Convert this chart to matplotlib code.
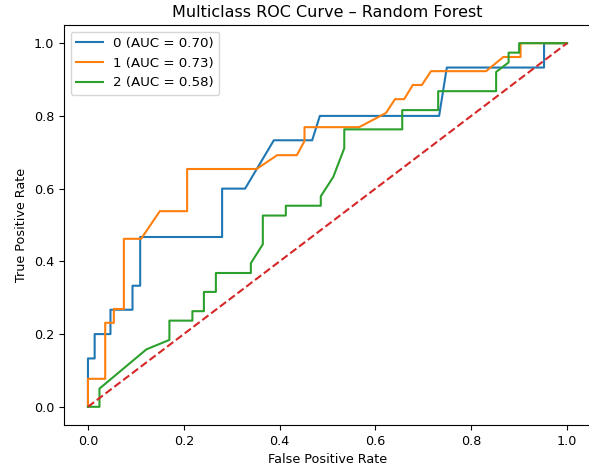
import matplotlib
matplotlib.use("Agg")
import matplotlib.pyplot as plt

# ROC points (FPR, TPR) per class
fpr_0 = [0, 0, 0.014, 0.014, 0.047, 0.047, 0.093, 0.093, 0.109, 0.109, 0.28, 0.28,
         0.328, 0.388, 0.468, 0.484, 0.733, 0.749, 0.952, 0.952, 1.0]
tpr_0 = [0, 0.133, 0.133, 0.2, 0.2, 0.267, 0.267, 0.333, 0.333, 0.467, 0.467, 0.6,
         0.6, 0.733, 0.733, 0.8, 0.8, 0.933, 0.933, 1.0, 1.0]

fpr_1 = [0, 0, 0.036, 0.036, 0.054, 0.054, 0.075, 0.075, 0.111, 0.15, 0.207, 0.207,
         0.352, 0.395, 0.436, 0.452, 0.452, 0.566, 0.622, 0.641, 0.66, 0.678, 0.697,
         0.716, 0.831, 0.867, 0.903, 0.903, 1.0]
tpr_1 = [0, 0.077, 0.077, 0.231, 0.231, 0.269, 0.269, 0.462, 0.462, 0.538, 0.538, 0.654,
         0.654, 0.692, 0.692, 0.731, 0.769, 0.769, 0.808, 0.846, 0.846, 0.885, 0.885,
         0.923, 0.923, 0.962, 0.962, 1.0, 1.0]

fpr_2 = [0, 0.024, 0.024, 0.122, 0.17, 0.17, 0.218, 0.218, 0.242, 0.242, 0.267, 0.267,
         0.34, 0.34, 0.365, 0.365, 0.413, 0.413, 0.486, 0.486, 0.512, 0.535, 0.535,
         0.656, 0.656, 0.731, 0.731, 0.852, 0.852, 0.878, 0.878, 0.9, 0.9, 1.0]
tpr_2 = [0, 0, 0.05, 0.158, 0.184, 0.237, 0.237, 0.263, 0.263, 0.316, 0.316, 0.368,
         0.368, 0.395, 0.447, 0.526, 0.526, 0.553, 0.553, 0.579, 0.632, 0.711, 0.763,
         0.763, 0.816, 0.816, 0.868, 0.868, 0.921, 0.947, 0.974, 0.974, 1.0, 1.0]

class_names = ["0", "1", "2"]
auc_values = [0.70, 0.73, 0.58]
curves = [(fpr_0, tpr_0), (fpr_1, tpr_1), (fpr_2, tpr_2)]

fig = plt.figure(figsize=(5.89, 4.66), dpi=100)
ax = fig.add_axes([64 / 589, 41 / 466, 527 / 589, 400 / 466])

for name, auc, (fpr, tpr) in zip(class_names, auc_values, curves):
    ax.plot(fpr, tpr, lw=1.5, label=f"{name} (AUC = {auc:.2f})")

ax.plot([0, 1], [0, 1], "--", lw=1.5, color="tab:red")

ax.set_title("Multiclass ROC Curve – Random Forest", fontsize=11.5)
ax.set_xlabel("False Positive Rate", fontsize=9.2)
ax.set_ylabel("True Positive Rate", fontsize=9.2)
ax.tick_params(labelsize=9.2)
ax.legend(loc="upper left", fontsize=9.6)

fig.savefig("out.png", dpi=100)
